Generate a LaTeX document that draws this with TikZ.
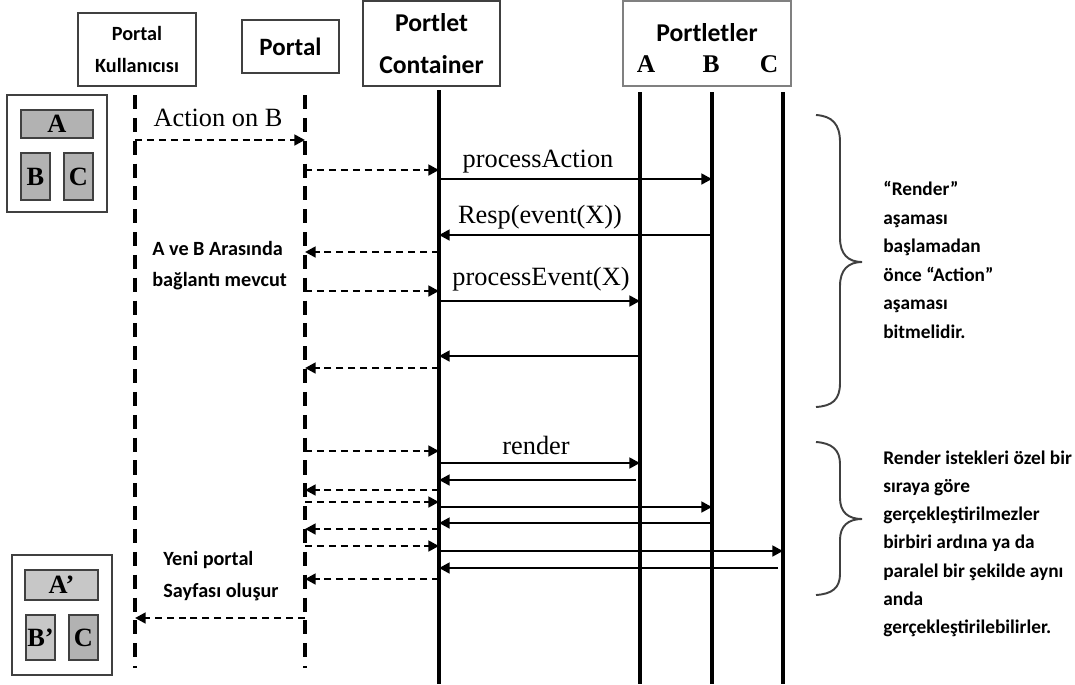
\documentclass[tikz,border=0pt]{standalone}
\usepackage{fontspec}
\setmainfont{Liberation Serif}
\newfontfamily\calfont{Carlito}
\usetikzlibrary{arrows.meta}
\begin{document}
\begin{tikzpicture}[x=0.02cm,y=-0.02cm,
  hdr/.style={draw=black!75, line width=0.9pt, inner sep=0pt, align=center, font=\calfont\bfseries},
  life/.style={line width=2pt},
  dlife/.style={line width=2.3pt, dash pattern=on 8pt off 5pt},
  msg/.style={line width=1.6pt, -{Triangle[length=6pt,width=6pt]}},
  dmsg/.style={line width=1.6pt, dash pattern=on 4pt off 2.8pt, -{Triangle[length=6pt,width=6pt]}},
  lbl/.style={font=\fontsize{15}{18}\selectfont, inner sep=0pt},
  note/.style={font=\calfont\bfseries\fontsize{11.5}{14}\selectfont, inner sep=0pt, anchor=base west},
  rnote/.style={font=\calfont\bfseries\fontsize{11}{14}\selectfont, inner sep=0pt, anchor=base west},
  pane/.style={draw=black!75, line width=0.9pt},
  cell/.style={draw=black!75, fill=black!30, line width=0.9pt, inner sep=0pt, font=\bfseries\fontsize{15}{18}\selectfont},
  bracepath/.style={draw=black!75, line width=1.1pt}
]
\useasboundingbox (0,0) rectangle (1075,684);

% header boxes
\node[hdr, minimum width=2.36cm, minimum height=1.46cm, font=\calfont\bfseries\fontsize{11.5}{18.7}\selectfont] (hU) at (137,49.5) {Portal\\Kullanıcısı};
\node[hdr, minimum width=1.94cm, minimum height=1.06cm, font=\calfont\bfseries\fontsize{14.2}{17}\selectfont] (hP) at (290.5,46.5) {Portal};
\node[hdr, minimum width=2.74cm, minimum height=1.7cm, font=\calfont\bfseries\fontsize{14.6}{23.8}\selectfont] (hC) at (431.5,43.5) {Portlet\\Container};
\node[hdr, draw=black!50, minimum width=3.36cm, minimum height=1.7cm] (hR) at (707,43.5) {};
\node[inner sep=0pt, font=\calfont\bfseries\fontsize{14.6}{17}\selectfont] (tR) at (707,33) {Portletler};
\node[inner sep=0pt, anchor=base, font=\bfseries\fontsize{14.5}{17}\selectfont] (tA) at (646,72) {A};
\node[inner sep=0pt, anchor=base, font=\bfseries\fontsize{14.5}{17}\selectfont] (tB) at (711,72) {B};
\node[inner sep=0pt, anchor=base, font=\bfseries\fontsize{14.5}{17}\selectfont] (tC) at (769,72) {C};

% lifelines
\coordinate (U) at (135,95);   \coordinate (Ue) at (135,668);
\coordinate (P) at (305,95);   \coordinate (Pe) at (305,668);
\coordinate (C) at (439,90);   \coordinate (Ce) at (439,684);
\coordinate (A) at (640,92);   \coordinate (Ae) at (640,684);
\coordinate (B) at (712,92);   \coordinate (Be) at (712,684);
\coordinate (K) at (783,92);   \coordinate (Ke) at (783,684);
\draw[dlife] (U) -- (Ue);
\draw[dlife] (P) -- (Pe);
\draw[life] (C) -- (Ce);
\draw[life] (A) -- (Ae);
\draw[life] (B) -- (Be);
\draw[life] (K) -- (Ke);

% left panes
\draw[pane] (7,95) rectangle (107,212);
\node[cell, minimum width=1.44cm, minimum height=0.56cm] (pA) at (57,124) {A};
\node[cell, minimum width=0.58cm, minimum height=0.94cm] (pB) at (35.5,176.5) {B};
\node[cell, minimum width=0.58cm, minimum height=0.94cm] (pC) at (78.5,176.5) {C};
\draw[pane] (12,555) rectangle (112,675);
\node[cell, fill=black!22, minimum width=1.46cm, minimum height=0.6cm] (qA) at (61.5,585) {A’};
\node[cell, fill=black!22, minimum width=0.58cm, minimum height=0.9cm] (qB) at (40.5,637.5) {B’};
\node[cell, minimum width=0.58cm, minimum height=0.9cm] (qC) at (83.5,637.5) {C};

% messages
\draw[dmsg] (U |- 0,140) -- (P |- 0,140);
\node[lbl] (l1) at (218,118) {Action on B};
\draw[dmsg] (P |- 0,170) -- (C |- 0,170);
\draw[msg] (C |- 0,179) -- (B |- 0,179);
\node[lbl] (l2) at (538,162) {processAction};
\draw[msg] (B |- 0,235) -- (C |- 0,235);
\node[lbl] (l3) at (540,217) {Resp(event(X))};
\draw[dmsg] (C |- 0,252) -- (P |- 0,252);
\draw[dmsg] (P |- 0,291) -- (C |- 0,291);
\draw[msg] (C |- 0,301) -- (A |- 0,301);
\node[lbl] (l4) at (541,279) {processEvent(X)};
\draw[msg] (A |- 0,356) -- (C |- 0,356);
\draw[dmsg] (C |- 0,368) -- (P |- 0,368);
\draw[dmsg] (P |- 0,451) -- (C |- 0,451);
\draw[msg] (C |- 0,463) -- (A |- 0,463);
\node[lbl] (l5) at (536,445) {render};
\draw[msg] (636,480) -- (C |- 0,480);
\draw[dmsg] (C |- 0,490) -- (P |- 0,490);
\draw[dmsg] (P |- 0,502) -- (C |- 0,502);
\draw[msg] (C |- 0,507) -- (B |- 0,507);
\draw[msg] (B |- 0,523) -- (C |- 0,523);
\draw[dmsg] (C |- 0,529) -- (P |- 0,529);
\draw[dmsg] (P |- 0,546) -- (C |- 0,546);
\draw[msg] (C |- 0,551) -- (K |- 0,551);
\draw[msg] (778,568) -- (C |- 0,568);
\draw[dmsg] (C |- 0,579) -- (P |- 0,579);
\draw[dmsg] (P |- 0,618) -- (U |- 0,618);

% left notes
\node[note] (n1) at (152,255) {A ve B Arasında};
\node[note] (n2) at (152,286) {bağlantı mevcut};
\node[note] (n3) at (163,565) {Yeni portal};
\node[note] (n4) at (163,597) {Sayfası oluşur};

% braces
\draw[bracepath] (816,115) .. controls (832,116) and (840,124) .. (840,142) -- (840,238)
  .. controls (840,254) and (848,262) .. (862,262)
  .. controls (848,262) and (840,270) .. (840,286) -- (840,383)
  .. controls (840,400) and (832,406) .. (816,407);
\draw[bracepath] (816,442) .. controls (832,443) and (840,450) .. (840,464) -- (840,498)
  .. controls (840,512) and (848,519) .. (862,519)
  .. controls (848,519) and (840,526) .. (840,540) -- (840,574)
  .. controls (840,588) and (832,594) .. (816,595);

% right notes
\node[rnote] (r1) at (883,195) {“Render”};
\node[rnote] (r2) at (883,224) {aşaması};
\node[rnote] (r3) at (883,252) {başlamadan};
\node[rnote] (r4) at (883,281) {önce “Action”};
\node[rnote] (r5) at (883,309) {aşaması};
\node[rnote] (r6) at (883,338) {bitmelidir.};
\node[rnote] (s1) at (883,464) {Render istekleri özel bir};
\node[rnote] (s2) at (883,492) {sıraya göre};
\node[rnote] (s3) at (883,520) {gerçekleştirilmezler};
\node[rnote] (s4) at (883,548) {birbiri ardına ya da};
\node[rnote] (s5) at (883,577) {paralel bir şekilde aynı};
\node[rnote] (s6) at (883,605) {anda};
\node[rnote] (s7) at (883,633) {gerçekleştirilebilirler.};
\end{tikzpicture}
\end{document}
